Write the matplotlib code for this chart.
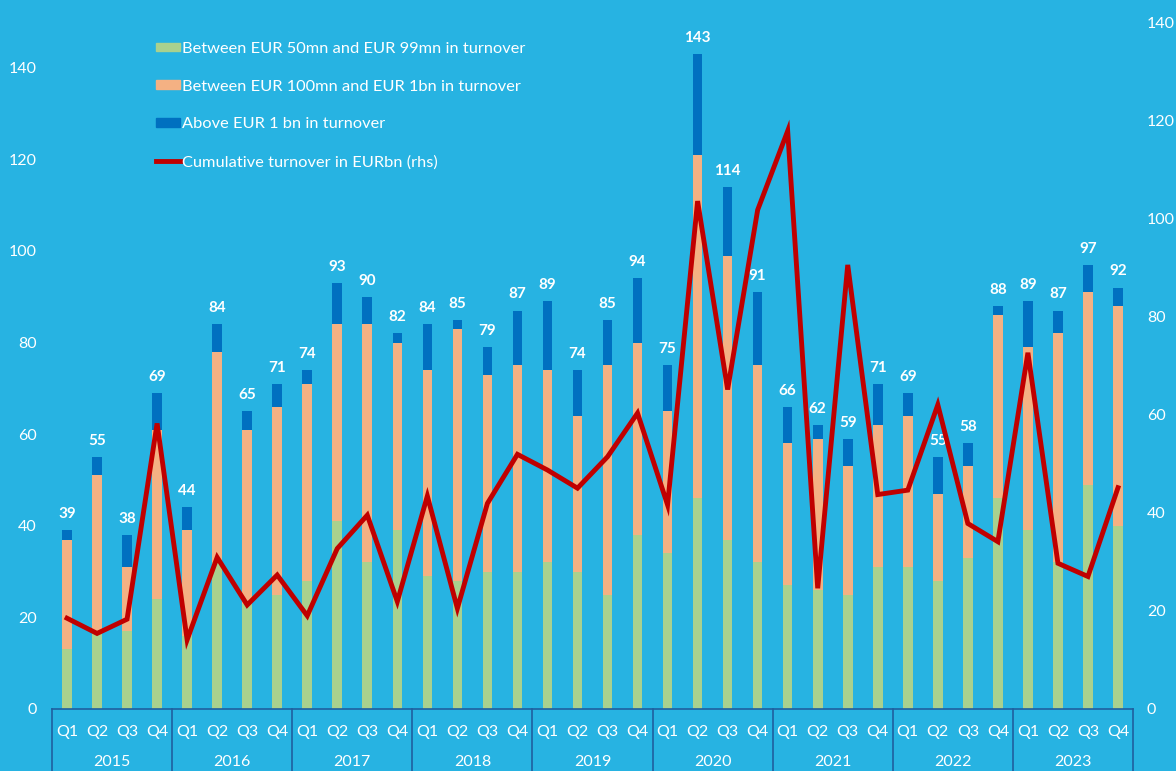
import numpy as np
import matplotlib.pyplot as plt
from matplotlib.lines import Line2D
from matplotlib.patches import Patch

plt.rcParams['font.family'] = ['Lato', 'DejaVu Sans']

years = ['2015', '2016', '2017', '2018', '2019', '2020', '2021', '2022', '2023']
quarters = ['Q1', 'Q2', 'Q3', 'Q4']

# number of deals by size of company (stacked)
small = [13, 17, 17, 24, 16, 32, 23, 25, 28, 41, 32, 39, 29, 28, 30, 30, 32, 30,
         25, 38, 34, 46, 37, 32, 27, 26, 25, 31, 31, 28, 33, 46, 39, 32, 49, 40]
mid = [24, 34, 14, 37, 23, 46, 38, 41, 43, 43, 52, 41, 45, 55, 43, 45, 42, 34,
       50, 42, 31, 75, 62, 43, 31, 33, 28, 31, 33, 19, 20, 40, 40, 50, 42, 48]
totals = [39, 55, 38, 69, 44, 84, 65, 71, 74, 93, 90, 82, 84, 85, 79, 87, 89, 74,
          85, 94, 75, 143, 114, 91, 66, 62, 59, 71, 69, 55, 58, 88, 89, 87, 97, 92]
large = [t - s - m for t, s, m in zip(totals, small, mid)]

# cumulative turnover in EURbn (rhs)
turnover = [18.5, 15.4, 18.3, 58.2, 14.1, 30.9, 21.2, 27.3, 19.0, 32.7, 39.5, 21.9,
            43.4, 20.5, 41.9, 51.9, 48.7, 45.0, 51.4, 60.3, 41.6, 103.5, 65.1, 101.7,
            117.8, 24.6, 90.5, 43.7, 44.6, 62.0, 37.8, 34.1, 72.6, 29.7, 27.0, 45.1]

bg = '#27B3E2'
c_small = '#A9D18E'
c_mid = '#F4B183'
c_large = '#0070C0'
c_line = '#C00000'
c_axis = '#1F5F9F'

fig = plt.figure(figsize=(11.76, 7.71), dpi=100, facecolor=bg)
ax = fig.add_axes([52 / 1176, 62 / 771, 1081 / 1176, 687 / 771])
ax.set_facecolor(bg)

x = np.arange(len(totals))
w = 0.32
ax.bar(x, small, w, color=c_small)
ax.bar(x, mid, w, bottom=small, color=c_mid)
ax.bar(x, large, w, bottom=np.array(small) + np.array(mid), color=c_large)

for xi, t in zip(x, totals):
    ax.text(xi, t + 2, str(t), ha='center', va='bottom', color='white',
            fontsize=11, fontweight='bold')

ax.set_xlim(-0.5, len(totals) - 0.5)
ax.set_ylim(0, 150)
ax.set_yticks(range(0, 141, 20))
ax.tick_params(axis='y', length=0, colors='white', labelsize=11.5, pad=11)
ax.set_xticks([])
for s in ax.spines.values():
    s.set_visible(False)

ax2 = ax.twinx()
ax2.plot(x, turnover, color=c_line, lw=3.5, solid_joinstyle='miter')
ax2.set_ylim(0, 140)
ax2.set_yticks(range(0, 141, 20))
ax2.tick_params(axis='y', length=0, colors='white', labelsize=11.5, pad=10)
for s in ax2.spines.values():
    s.set_visible(False)

# category axis with quarter and year boxes
trans = ax.get_xaxis_transform()
ax.plot([-0.5, len(totals) - 0.5], [0, 0], color=c_axis, lw=1.2, transform=trans, clip_on=False)
for k in range(len(years) + 1):
    xb = k * 4 - 0.5
    ax.plot([xb, xb], [0, -0.1], color=c_axis, lw=1.2, transform=trans, clip_on=False)
for i in x:
    ax.text(i, -0.033, quarters[i % 4], ha='center', va='center', color='white',
            fontsize=11.5, transform=trans)
for k, yr in enumerate(years):
    ax.text(k * 4 + 1.5, -0.077, yr, ha='center', va='center', color='white',
            fontsize=11.5, transform=trans)

handles = [Patch(color=c_small), Patch(color=c_mid), Patch(color=c_large),
           Line2D([], [], color=c_line, lw=3.5)]
labels = ['Between EUR 50mn and EUR 99mn in turnover',
          'Between EUR 100mn and EUR 1bn in turnover',
          'Above EUR 1 bn in turnover',
          'Cumulative turnover in EURbn (rhs)']
leg = ax2.legend(handles, labels, loc='upper left', bbox_to_anchor=(141 / 1176, 1 - 27 / 771),
                 bbox_transform=fig.transFigure, frameon=False, fontsize=11.8,
                 labelspacing=1.45, handlelength=1.5, handleheight=0.45, handletextpad=0.1)
for t in leg.get_texts():
    t.set_color('white')

fig.savefig('out.png', dpi=100, facecolor=bg)
